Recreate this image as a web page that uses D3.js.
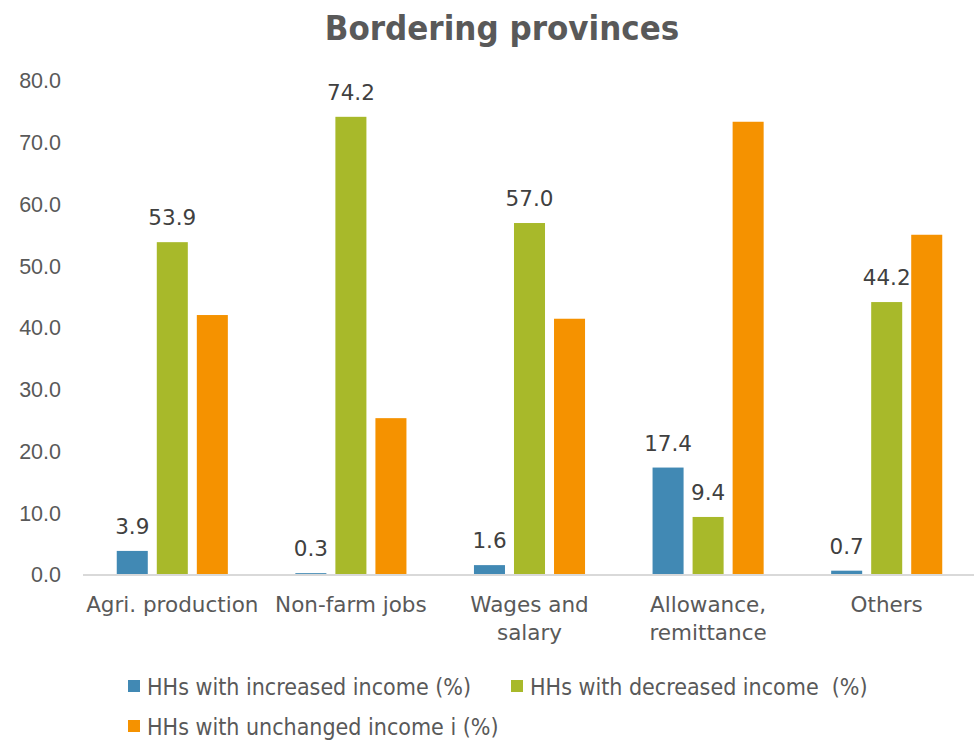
<!DOCTYPE html>
<html>
<head>
<meta charset="utf-8">
<script src="https://cdn.jsdelivr.net/npm/d3@7"></script>
<style>
  html, body { margin: 0; padding: 0; background: #fff; }
  svg { display: block; font-family: "DejaVu Sans", sans-serif; }
</style>
</head>
<body>
<svg id="chart" width="974" height="742"></svg>
<script>
// Income change by source, bordering provinces
const categories = [["Agri. production"], ["Non-farm jobs"], ["Wages and", "salary"], ["Allowance,", "remittance"], ["Others"]];
const seriesNames = ["HHs with increased income (%)", "HHs with decreased income  (%)", "HHs with unchanged income i (%)"];
const increased = [3.9, 0.3, 1.6, 17.4, 0.7];
const decreased = [53.9, 74.2, 57.0, 9.4, 44.2];
const unchanged = [42.1, 25.4, 41.5, 73.4, 55.1];
const yTicks = [0, 10, 20, 30, 40, 50, 60, 70, 80];
const colors = ["#4189b4", "#a8b92a", "#f59200"];
// which series carry value labels
const labelled = [true, true, false];

const series = [increased, decreased, unchanged];
const svg = d3.select("#chart");
const catKeys = categories.map(c => c.join(" "));

const x0 = d3.scaleBand().domain(catKeys).range([83, 976]).paddingInner(0.378).paddingOuter(0.189);
const x1 = d3.scaleBand().domain(d3.range(series.length)).range([0, x0.bandwidth()]).paddingInner(0.225);
const y = d3.scaleLinear().domain([0, 80]).range([575, 81]);

// title
svg.append("text")
  .attr("x", 502).attr("y", 40)
  .attr("text-anchor", "middle")
  .attr("font-family", "DejaVu Sans Condensed")
  .attr("font-size", 34.5).attr("font-weight", "bold")
  .attr("fill", "#595959")
  .text("Bordering provinces");

// y axis labels
const yAxis = d3.axisLeft(y).tickValues(yTicks).tickFormat(d3.format(".1f")).tickSize(0).tickPadding(0);
const gy = svg.append("g").attr("transform", "translate(61,0)").call(yAxis);
gy.select(".domain").remove();
gy.selectAll("text").attr("font-size", 21.5).attr("fill", "#595959").attr("font-family", null);

// bars
const groups = svg.append("g").selectAll("g")
  .data(catKeys)
  .join("g")
  .attr("transform", d => `translate(${x0(d)},0)`);

groups.selectAll("rect")
  .data((d, i) => series.map((s, k) => ({ k, v: s[i] })))
  .join("rect")
  .attr("x", d => x1(d.k))
  .attr("width", x1.bandwidth())
  .attr("y", d => y(d.v))
  .attr("height", d => y(0) - y(d.v))
  .attr("fill", d => colors[d.k]);

groups.selectAll("text.val")
  .data((d, i) => series.map((s, k) => ({ k, v: s[i] })).filter(d => labelled[d.k]))
  .join("text")
  .attr("class", "val")
  .attr("x", d => x1(d.k) + x1.bandwidth() / 2)
  .attr("y", d => y(d.v) - 17)
  .attr("text-anchor", "middle")
  .attr("font-size", 21.5)
  .attr("fill", "#404040")
  .text(d => d3.format(".1f")(d.v));

// baseline
svg.append("line")
  .attr("x1", 83).attr("x2", 976)
  .attr("y1", y(0)).attr("y2", y(0))
  .attr("stroke", "#d9d9d9").attr("stroke-width", 2);

// category labels
const cat = svg.append("g").selectAll("text")
  .data(categories)
  .join("text")
  .attr("x", (d, i) => x0(catKeys[i]) + x0.bandwidth() / 2)
  .attr("y", 612)
  .attr("text-anchor", "middle")
  .attr("font-size", 21.5)
  .attr("fill", "#595959");
cat.selectAll("tspan")
  .data(d => d)
  .join("tspan")
  .attr("x", function () { return d3.select(this.parentNode).attr("x"); })
  .attr("dy", (d, i) => i === 0 ? 0 : 28)
  .text(d => d);

// legend
const legendPos = [[128, 687], [511, 687], [128, 727]];
const lg = svg.append("g").selectAll("g")
  .data(seriesNames)
  .join("g")
  .attr("transform", (d, i) => `translate(${legendPos[i][0]},${legendPos[i][1]})`);
lg.append("rect").attr("x", 0).attr("y", -7).attr("width", 12).attr("height", 12)
  .attr("fill", (d, i) => colors[i]);
lg.append("text").attr("x", 19).attr("y", 8)
  .attr("font-family", "DejaVu Sans Condensed")
  .attr("font-size", 23).attr("fill", "#595959")
  .style("white-space", "pre")
  .text(d => d);
</script>
</body>
</html>
